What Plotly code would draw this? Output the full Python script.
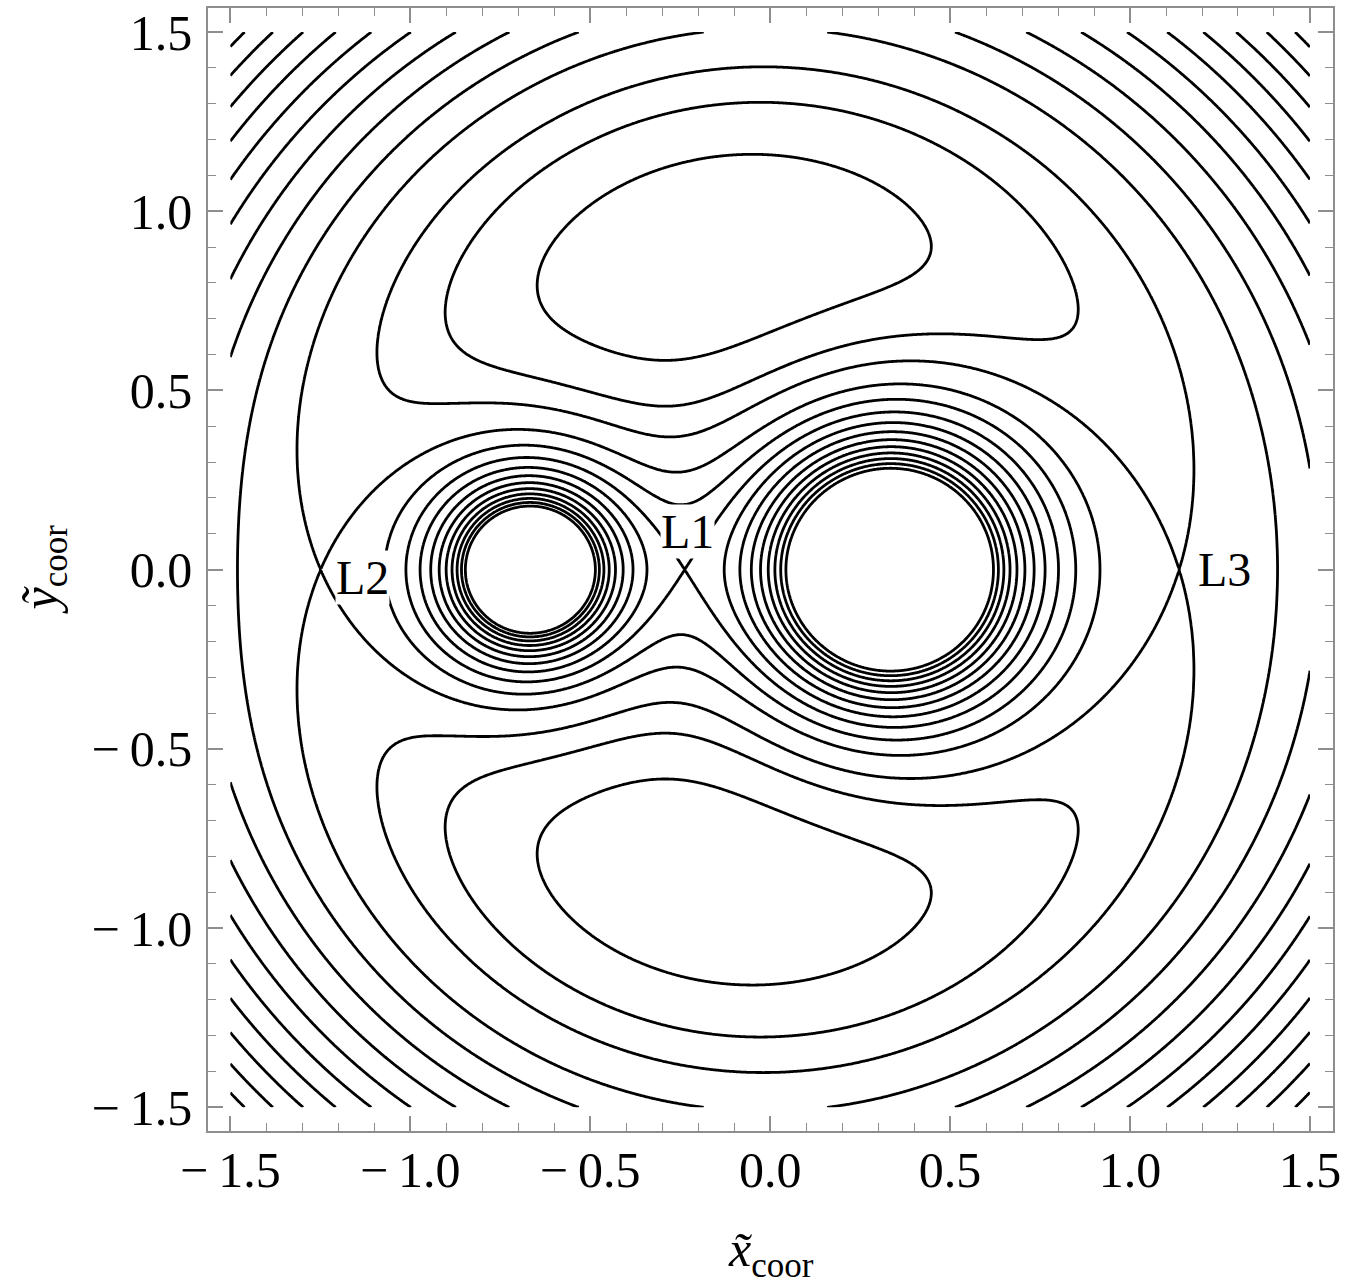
import numpy as np
import plotly.graph_objects as go

# Restricted three-body problem, rotating frame: mass ratio of the smaller body
MU = 1 / 3
# rough x positions of the collinear equilibrium points (refined below)
L_GUESS = {"L1": -0.24, "L2": -1.25, "L3": 1.14}
# contour levels given as offsets from the value at L1 (the L2 and L3 values are added as well)
LEVEL_OFFSETS = [-0.5, -0.4, -0.1, 0.0, 0.1, 0.2, 0.3, 0.4, 0.5, 0.6, 0.7, 0.8]
# label anchor points for the equilibrium points
LABEL_POS = {"L1": (-0.229, 0.107), "L2": (-1.133, -0.022), "L3": (1.262, 0.0)}
# axis ticks
TICK_VALS = [-1.5, -1.0, -0.5, 0.0, 0.5, 1.0, 1.5]
TICK_TEXT = ["\u2212\u20091.5", "\u2212\u20091.0", "\u2212\u20090.5", "0.0", "0.5", "1.0", "1.5"]
DOMAIN = (-1.5, 1.5)

FONT = "Liberation Serif, Times New Roman, serif"
FRAME = "#8e8e8e"


def omega(x, y):
    """Effective potential: centrifugal term plus the two point masses."""
    r1 = np.hypot(x - MU, y)            # heavier body (1 - MU) at x = MU
    r2 = np.hypot(x + 1 - MU, y)        # lighter body (MU) at x = -(1 - MU)
    return 0.5 * (x * x + y * y) + (1 - MU) / r1 + MU / r2


def refine(x0, half=0.05):
    """Collinear points are minima of omega along the x axis: ternary search."""
    a, b = x0 - half, x0 + half
    for _ in range(200):
        m1 = a + (b - a) / 3
        m2 = b - (b - a) / 3
        if omega(m1, 0.0) < omega(m2, 0.0):
            b = m2
        else:
            a = m1
    return 0.5 * (a + b)


L_X = {k: refine(v) for k, v in L_GUESS.items()}
C = {k: float(omega(x, 0.0)) for k, x in L_X.items()}

levels = sorted([C["L1"] + d for d in LEVEL_OFFSETS] + [C["L2"], C["L3"]])

# potential on the plotting domain
n = 901
xs = np.linspace(DOMAIN[0], DOMAIN[1], n)
ys = np.linspace(DOMAIN[0], DOMAIN[1], n)
X, Y = np.meshgrid(xs, ys)
W = omega(X, Y)

# monotone relabelling so that the chosen levels become 0, 1, 2, ... and one
# contour trace with unit spacing draws exactly those curves; the two ends are
# extended with the neighbouring spacing to keep the map nearly linear there
lo = levels[0] - (levels[1] - levels[0])
hi = levels[-1] + (levels[-1] - levels[-2])
lev_ext = np.concatenate([[lo], levels, [hi]])
idx_ext = np.arange(-1, len(levels) + 1, dtype=float)
Z = np.interp(np.clip(W, lo, hi), lev_ext, idx_ext)

fig = go.Figure()
fig.add_trace(go.Contour(
    x=xs, y=ys, z=Z,
    contours=dict(coloring="none", start=0, end=len(levels) - 1, size=1),
    line=dict(color="black", width=2.8, smoothing=1),
    showscale=False, hoverinfo="skip",
))

for name, (lx, ly) in LABEL_POS.items():
    fig.add_annotation(
        x=lx, y=ly, xref="x", yref="y", text=name, showarrow=False,
        font=dict(family=FONT, size=48, color="black"),
        bgcolor="white", borderpad=0, xanchor="center", yanchor="middle",
    )

minor_vals = [round(v, 1) for v in np.arange(-1.5, 1.5001, 0.1)]
axis_common = dict(
    tickmode="array", tickvals=TICK_VALS, ticktext=TICK_TEXT,
    ticks="inside", ticklen=15, tickwidth=1.5, tickcolor=FRAME,
    minor=dict(tickmode="array", tickvals=minor_vals, ticks="inside",
               ticklen=8, tickwidth=1.2, tickcolor=FRAME),
    showline=True, linecolor=FRAME, linewidth=1.5, mirror="ticks",
    showgrid=False, zeroline=False,
    tickfont=dict(family=FONT, size=50, color="black"),
)

fig.update_layout(
    width=1355, height=1283,
    margin=dict(l=208, r=22, t=5, b=152),
    paper_bgcolor="white", plot_bgcolor="white",
    showlegend=False,
    xaxis=dict(range=[-1.562, 1.564], ticklabelstandoff=-6, **axis_common),
    yaxis=dict(range=[-1.566, 1.567], ticklabelstandoff=4, **axis_common),
)

# axis titles
fig.add_annotation(
    x=0.5, y=0, xref="paper", yref="paper", yshift=-122,
    text="<i>x\u0303</i><sub>coor</sub>", showarrow=False,
    font=dict(family=FONT, size=50, color="black"),
    xanchor="center", yanchor="middle",
)
fig.add_annotation(
    x=0, y=0.5, xref="paper", yref="paper", xshift=-165,
    text="<i>y\u0303</i><sub>coor</sub>", showarrow=False, textangle=-90,
    font=dict(family=FONT, size=50, color="black"),
    xanchor="center", yanchor="middle",
)

fig.write_html("out.html")
